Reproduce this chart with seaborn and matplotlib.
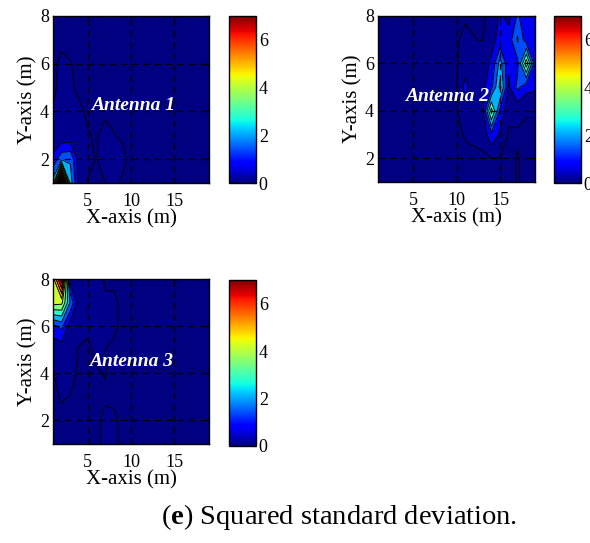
import numpy as np
import matplotlib
matplotlib.use("Agg")
import matplotlib.pyplot as plt
import seaborn as sns
from matplotlib import colors as mcolors
from matplotlib.cm import ScalarMappable

sns.set_theme(style="white", rc={
    "axes.edgecolor": "black", "text.color": "black", "axes.labelcolor": "black",
    "xtick.color": "black", "ytick.color": "black",
})
plt.rcParams["font.family"] = ["Liberation Serif", "DejaVu Serif"]
plt.rcParams["mathtext.fontset"] = "custom"
plt.rcParams["mathtext.rm"] = "Liberation Serif"
plt.rcParams["mathtext.bf"] = "Liberation Serif:bold"

# ---------------- data ----------------
x_pos = [1, 2, 3, 4, 5, 6, 7, 8, 9, 10, 11, 12, 13, 14, 15, 16, 17, 18, 19]
y_pos = [1, 2, 3, 4, 5, 6, 7, 8]

# rows: y = 1 ... 8 ; columns: x = 1 ... 19
antenna1 = [
    [2.4, 10.0, 2.5, 0.5, 0.08, 0.05, 0.09, 0.15, 0.07, 0.05, 0.05, 0.05, 0.05, 0.05, 0.05, 0.05, 0.05, 0.05, 0.05],
    [0.9, 1.9, 2.0, 0.3, 0.2, 0.08, 0.25, 0.2, 0.16, 0.04, 0.05, 0.05, 0.05, 0.05, 0.05, 0.05, 0.05, 0.05, 0.05],
    [0.2, 0.15, 0.15, 0.2, 0.12, 0.07, 0.2, 0.11, 0.07, 0.05, 0.05, 0.05, 0.05, 0.05, 0.05, 0.05, 0.05, 0.05, 0.05],
    [0.13, 0.2, 0.2, 0.16, 0.05, 0.05, 0.04, 0.05, 0.05, 0.05, 0.05, 0.05, 0.05, 0.05, 0.05, 0.05, 0.05, 0.05, 0.05],
    [0.03, 0.2, 0.15, 0.04, 0.05, 0.05, 0.05, 0.05, 0.05, 0.05, 0.05, 0.05, 0.05, 0.05, 0.05, 0.05, 0.05, 0.05, 0.05],
    [0.04, 0.16, 0.11, 0.05, 0.05, 0.05, 0.05, 0.05, 0.05, 0.05, 0.05, 0.05, 0.05, 0.05, 0.05, 0.05, 0.05, 0.05, 0.05],
    [0.05, 0.04, 0.03, 0.05, 0.05, 0.05, 0.05, 0.05, 0.05, 0.05, 0.05, 0.05, 0.05, 0.05, 0.05, 0.05, 0.05, 0.05, 0.05],
    [0.05, 0.05, 0.05, 0.05, 0.05, 0.05, 0.05, 0.05, 0.05, 0.05, 0.05, 0.05, 0.05, 0.05, 0.05, 0.05, 0.05, 0.05, 0.05],
]

antenna2 = [
    [0.05, 0.05, 0.05, 0.05, 0.05, 0.05, 0.05, 0.05, 0.05, 0.05, 0.05, 0.05, 0.05, 0.05, 0.05, 0.05, 0.11, 0.05, 0.05],
    [0.05, 0.05, 0.05, 0.05, 0.05, 0.05, 0.05, 0.05, 0.05, 0.05, 0.05, 0.05, 0.05, 0.09, 0.08, 0.05, 0.11, 0.05, 0.05],
    [0.05, 0.05, 0.05, 0.05, 0.05, 0.05, 0.05, 0.05, 0.05, 0.05, 0.12, 0.15, 0.2, 1.2, 0.6, 0.05, 0.08, 0.05, 0.05],
    [0.05, 0.05, 0.05, 0.05, 0.05, 0.05, 0.05, 0.05, 0.05, 0.05, 0.5, 0.3, 0.5, 3.8, 1.2, 0.2, 0.15, 0.12, 0.12],
    [0.05, 0.05, 0.05, 0.05, 0.05, 0.05, 0.05, 0.05, 0.05, 0.05, 0.9, 0.3, 0.5, 1.2, 3.0, 0.6, 1.6, 0.9, 0.8],
    [0.05, 0.05, 0.05, 0.05, 0.05, 0.05, 0.05, 0.05, 0.05, 0.05, 0.4, 0.3, 0.4, 0.8, 2.4, 0.8, 1.2, 4.0, 1.0],
    [0.05, 0.05, 0.05, 0.05, 0.05, 0.05, 0.05, 0.05, 0.05, 0.05, 0.2, 0.11, 0.08, 0.5, 0.9, 1.0, 2.2, 1.0, 0.9],
    [0.05, 0.05, 0.05, 0.05, 0.05, 0.05, 0.05, 0.05, 0.05, 0.05, 0.05, 0.05, 0.05, 0.2, 0.8, 0.5, 1.5, 1.0, 0.7],
]

antenna3 = [
    [0.05, 0.05, 0.05, 0.05, 0.05, 0.05, 0.15, 0.15, 0.05, 0.05, 0.05, 0.05, 0.05, 0.05, 0.05, 0.05, 0.05, 0.05, 0.05],
    [0.05, 0.05, 0.05, 0.05, 0.05, 0.05, 0.15, 0.15, 0.05, 0.05, 0.05, 0.05, 0.05, 0.05, 0.05, 0.05, 0.05, 0.05, 0.05],
    [0.05, 0.12, 0.09, 0.05, 0.05, 0.05, 0.07, 0.05, 0.05, 0.05, 0.05, 0.05, 0.05, 0.05, 0.05, 0.05, 0.05, 0.05, 0.05],
    [0.09, 0.2, 0.2, 0.05, 0.05, 0.08, 0.11, 0.05, 0.05, 0.05, 0.05, 0.05, 0.05, 0.05, 0.05, 0.05, 0.05, 0.05, 0.05],
    [0.2, 0.25, 0.2, 0.08, 0.05, 0.15, 0.1, 0.05, 0.05, 0.05, 0.05, 0.05, 0.05, 0.05, 0.05, 0.05, 0.05, 0.05, 0.05],
    [1.2, 1.6, 0.3, 0.2, 0.15, 0.2, 0.12, 0.15, 0.05, 0.05, 0.05, 0.05, 0.05, 0.05, 0.05, 0.05, 0.05, 0.05, 0.05],
    [4.5, 4.4, 2.0, 0.3, 0.2, 0.2, 0.12, 0.15, 0.05, 0.05, 0.05, 0.05, 0.05, 0.05, 0.05, 0.05, 0.05, 0.05, 0.05],
    [4.6, 7.5, 0.3, 0.2, 0.2, 0.2, 0.08, 0.05, 0.05, 0.05, 0.05, 0.05, 0.05, 0.05, 0.05, 0.05, 0.05, 0.05, 0.05],
]

panel_names = ["Antenna 1", "Antenna 2", "Antenna 3"]
x_ticks = [5, 10, 15]
y_ticks = [2, 4, 6, 8]
cbar_ticks = [0, 2, 4, 6]
cbar_range = (0, 7)
x_label = "X-axis (m)"
y_label = "Y-axis (m)"
caption_letter = "e"
caption_text = "Squared standard deviation."

# ---------------- style / layout ----------------
FIG_W, FIG_H = 590, 543
def rect(l, t, r, b):
    return [l / FIG_W, 1 - b / FIG_H, (r - l) / FIG_W, (b - t) / FIG_H]

axes_rects = [rect(53, 16, 209, 183), rect(378, 16, 535, 182), rect(53, 279, 209, 444)]
cbar_rects = [rect(229, 16, 256, 183), rect(554, 16, 581, 183), rect(229, 280, 256, 446)]
name_pos = [(10.2, 4.26), (8.9, 4.6), (10.0, 4.5)]

jet = matplotlib.colormaps["jet"]
vmin, vmax = cbar_range
levels = [-1.0, 0.1] + [round(v, 2) for v in np.arange(0.7, 14.01, 0.7)]
band_colors = [jet(min(max(l, 0.0) / vmax, 1.0)) for l in levels[:-1]]

fig = plt.figure(figsize=(FIG_W / 100, FIG_H / 100), dpi=100)

for data, name, arect, crect, npos in zip([antenna1, antenna2, antenna3], panel_names,
                                          axes_rects, cbar_rects, name_pos):
    ax = fig.add_axes(arect)
    Z = np.array(data)
    ax.contourf(x_pos, y_pos, Z, levels=levels, colors=band_colors)
    ax.contour(x_pos, y_pos, Z, levels=levels[1:], colors="black", linewidths=0.7)
    ax.set_xlim(1, 19)
    ax.set_ylim(1, 8)
    ax.set_xticks(x_ticks)
    ax.set_yticks(y_ticks)
    ax.grid(True, color="black", linestyle=(0, (5, 4)), linewidth=0.9)
    ax.set_axisbelow(False)
    ax.tick_params(direction="in", length=4, width=0.8, labelsize=13, top=True, right=True)
    ax.tick_params(axis="x", pad=7)
    ax.tick_params(axis="y", pad=3)
    for s in ax.spines.values():
        s.set_color("black")
        s.set_linewidth(1.0)
    ax.set_xlabel(x_label, fontsize=15, labelpad=0)
    ax.set_ylabel(y_label, fontsize=15, labelpad=2)
    ax.text(npos[0], npos[1], name, color="white", fontsize=14, fontweight="bold",
            fontstyle="italic", ha="center", va="center")

    cax = fig.add_axes(crect)
    sm = ScalarMappable(norm=mcolors.Normalize(vmin, vmax), cmap=jet)
    cb = fig.colorbar(sm, cax=cax, ticks=cbar_ticks)
    cb.ax.tick_params(direction="in", length=3, width=0.8, labelsize=13, pad=2)
    cb.outline.set_linewidth(1.0)
    cb.outline.set_edgecolor("black")

fig.text(339 / FIG_W, 1 - 517 / FIG_H,
         r"($\mathbf{" + caption_letter + r"}$) " + caption_text,
         ha="center", va="center", fontsize=20.5)

fig.savefig("out.png", dpi=100)
